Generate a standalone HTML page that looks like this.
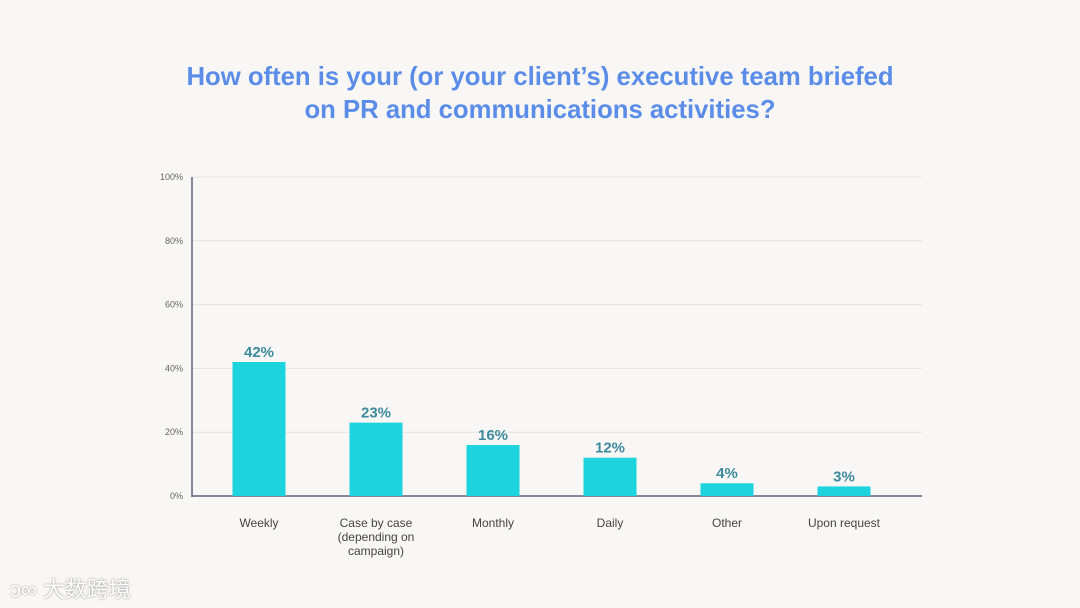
<!DOCTYPE html>
<html><head><meta charset="utf-8"><style>
body{margin:0;width:1080px;height:608px;background:#f8f7f5;overflow:hidden;font-family:"Liberation Sans","Noto Sans CJK SC",sans-serif;}
#title{position:absolute;left:0;top:61px;width:1080px;text-align:center;color:#5b8de8;font-weight:bold;font-size:25.7px;line-height:33px;}
#wm{position:absolute;left:10px;top:572px;font-size:22px;color:#fff;text-shadow:0 0 2px #888;}
</style></head><body>
<div id="title">How often is your (or your client’s) executive team briefed<br>on PR and communications activities?</div>
<svg id="chart" width="1080" height="608" style="position:absolute;left:0;top:0"></svg>
<div id="wm">ↄ∞ 大数跨境</div>
<script>
const categories=[["Weekly"],["Case by case","(depending on","campaign)"],["Monthly"],["Daily"],["Other"],["Upon request"]];
const values=[42,23,16,12,4,3];
const ticks=[0,20,40,60,80,100];
const NS="http://www.w3.org/2000/svg";
const svg=document.getElementById('chart');
const y=v=>496-v*3.19;
const x=i=>259+i*117;
function mk(t,a){const e=document.createElementNS(NS,t);for(const k in a)e.setAttribute(k,a[k]);svg.appendChild(e);return e;}
ticks.forEach(t=>{
 const g=mk('line',{x1:192,x2:922,y1:y(t),y2:y(t),stroke:t===0?'#5a6478':'#e6e4e0','stroke-width':t===0?1.5:1});
 
 
 const l=mk('text',{x:183,y:y(t)+3,'text-anchor':'end','font-size':9,fill:'#666'});
 l.textContent=t+'%';
 
 
});
const ax=mk('line',{x1:192,x2:192,y1:177,y2:497,stroke:'#5a6478','stroke-width':1.5});


values.forEach((v,i)=>{
 const b=mk('rect',{x:x(i)-26.5,y:y(v),width:53,height:496-y(v),fill:'#1dd3dd'});
 
 
 const t=mk('text',{x:x(i),y:y(v)-5,'text-anchor':'middle','font-size':15,'font-weight':'bold',fill:'#3d8a9c'});
 t.textContent=v+'%';
 
 
 categories[i].forEach((line,j)=>{
  const c=mk('text',{x:x(i),y:527+j*14,'text-anchor':'middle','font-size':12,fill:'#444'});
  c.textContent=line;
  
  
 });
});
</script>
</body></html>
